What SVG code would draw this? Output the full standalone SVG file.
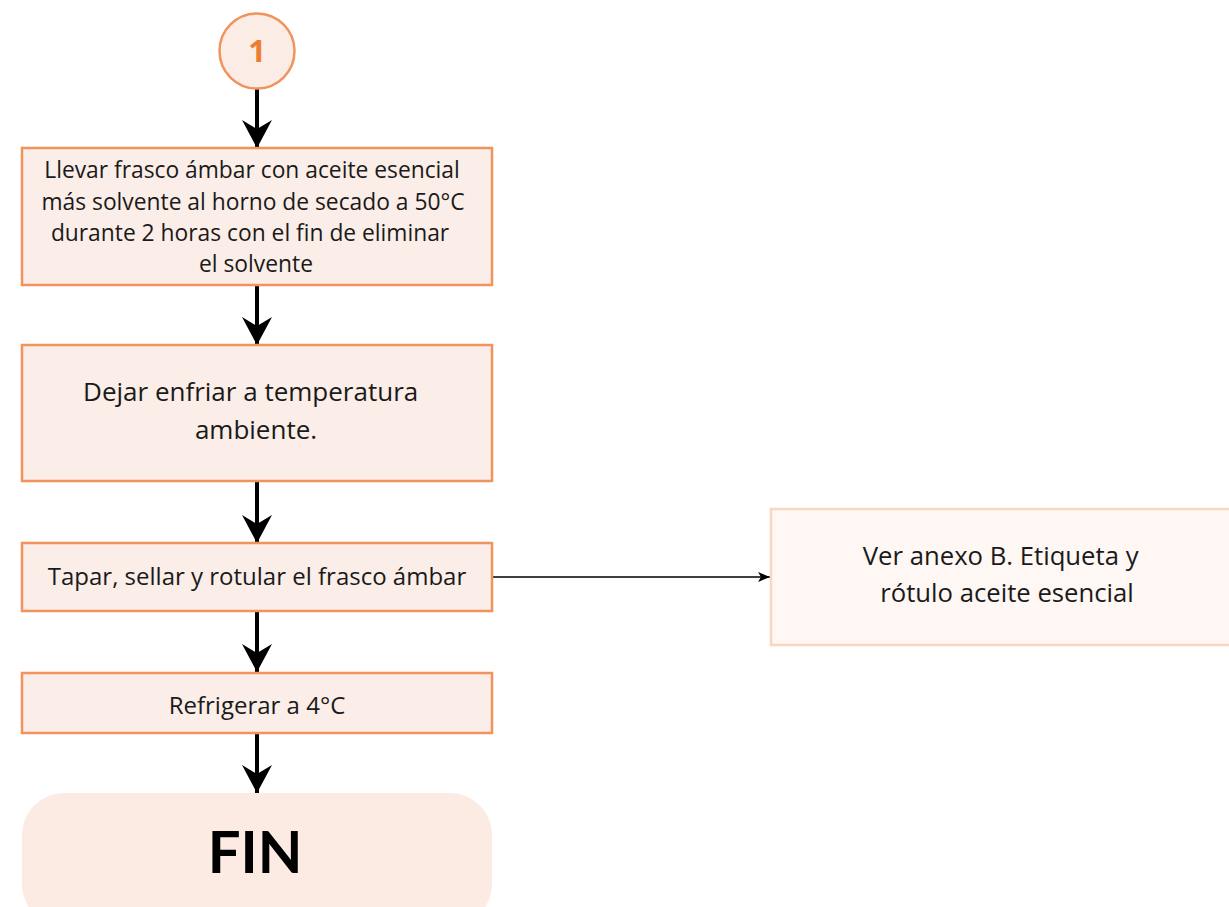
<svg xmlns="http://www.w3.org/2000/svg" width="1229" height="907" viewBox="0 0 1229 907">
  <style>
    .step { fill: #FBEDE7; stroke: #F0935C; stroke-width: 2.5; }
    .note { fill: #FEF7F4; stroke: #FAD6C2; stroke-width: 2.5; }
    .txt { font-family: "Open Sans", "Liberation Sans", sans-serif; fill: #1a1a1a; text-anchor: middle; }
    .flow { stroke: #000; stroke-width: 4; fill: none; }
    .thin { stroke: #000; stroke-width: 1.5; fill: none; }
  </style>
  <defs>
    <marker id="head" viewBox="0 0 28 30" refX="28" refY="15" markerWidth="28" markerHeight="30" markerUnits="userSpaceOnUse" orient="auto">
      <path d="M0,0 L28,15 L0,30 L9,15 Z" fill="#000"/>
    </marker>
    <marker id="headSmall" viewBox="0 0 12 10" refX="12" refY="5" markerWidth="12" markerHeight="10" markerUnits="userSpaceOnUse" orient="auto">
      <path d="M0,0 L12,5 L0,10 L3,5 Z" fill="#000"/>
    </marker>
  </defs>

  <g id="connectors">
    <line class="flow" x1="257" y1="89" x2="257" y2="148" marker-end="url(#head)"/>
    <line class="flow" x1="257" y1="286" x2="257" y2="345" marker-end="url(#head)"/>
    <line class="flow" x1="257" y1="481" x2="257" y2="543" marker-end="url(#head)"/>
    <line class="flow" x1="257" y1="611" x2="257" y2="672" marker-end="url(#head)"/>
    <line class="flow" x1="257" y1="733" x2="257" y2="793" marker-end="url(#head)"/>
    <line class="thin" x1="492" y1="577" x2="770" y2="577" marker-end="url(#headSmall)"/>
  </g>

  <g id="start">
    <circle cx="257" cy="51" r="37.5" fill="#FBECE6" stroke="#F0935C" stroke-width="2.5"/>
    <text x="257" y="62" font-family="'Open Sans', 'Liberation Sans', sans-serif" font-weight="bold" font-size="31" fill="#ED7D31" text-anchor="middle">1</text>
  </g>

  <g id="step-horno">
    <rect class="step" x="22" y="148" width="470" height="137"/>
    <text class="txt" font-size="22.8">
      <tspan x="255" y="178">Llevar frasco ámbar con aceite esencial</tspan>
      <tspan x="256" y="210">más solvente al horno de secado a 50°C</tspan>
      <tspan x="253" y="241">durante 2 horas con el fin de eliminar</tspan>
      <tspan x="256" y="272">el solvente</tspan>
    </text>
  </g>

  <g id="step-enfriar">
    <rect class="step" x="22" y="345" width="470" height="136"/>
    <text class="txt" font-size="26">
      <tspan x="254" y="401">Dejar enfriar a temperatura</tspan>
      <tspan x="256" y="439">ambiente.</tspan>
    </text>
  </g>

  <g id="step-tapar">
    <rect class="step" x="22" y="543" width="470" height="68"/>
    <text class="txt" font-size="24" x="257" y="585">Tapar, sellar y rotular el frasco ámbar</text>
  </g>

  <g id="step-refrigerar">
    <rect class="step" x="22" y="673" width="470" height="60"/>
    <text class="txt" font-size="24" x="257" y="714">Refrigerar a 4°C</text>
  </g>

  <g id="end">
    <rect x="22" y="793" width="470" height="133" rx="42" fill="#FBEBE3"/>
    <text x="255" y="873" font-family="Lato, 'Liberation Sans', sans-serif" font-weight="bold" font-size="58" fill="#000" text-anchor="middle">FIN</text>
  </g>

  <g id="note-anexo">
    <rect class="note" x="771" y="509" width="470" height="136"/>
    <text class="txt" font-size="25.7">
      <tspan x="1004" y="565">Ver anexo B. Etiqueta y</tspan>
      <tspan x="1007" y="602">rótulo aceite esencial</tspan>
    </text>
  </g>
</svg>
